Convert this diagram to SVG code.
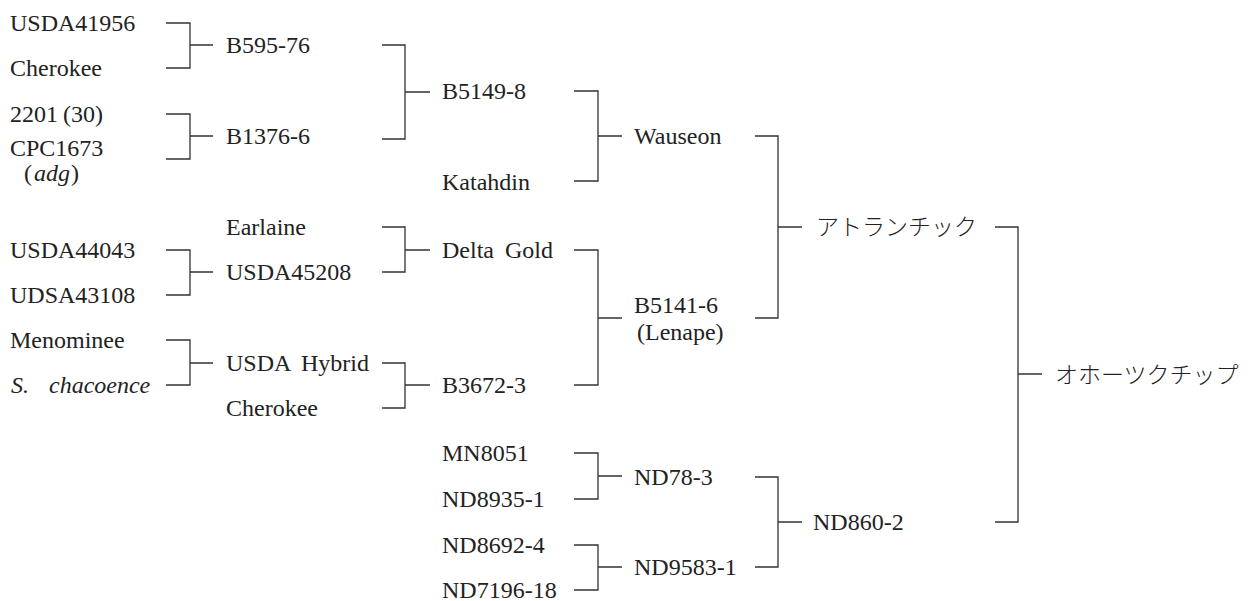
<svg xmlns="http://www.w3.org/2000/svg" width="1255" height="601" viewBox="0 0 1255 601">
<style>
text{font-size:24px;fill:#222}
.it{font-style:italic}
.ws{word-spacing:5px}
.jp{font-size:23px;font-weight:300}
#connectors path{fill:none;stroke:#333;stroke-width:1.3}
</style>
<rect width="1255" height="601" fill="#fff"/>
<g id="connectors">
<path d="M166 23H190V68H166M190 45H213"/>
<path d="M166 114H190V159H166M190 136H213"/>
<path d="M166 250H190V295H166M190 272H213"/>
<path d="M166 340H190V385H166M190 363H213"/>
<path d="M382 45H405V139H382M405 92H430"/>
<path d="M382 227H405V272H382M405 250H430"/>
<path d="M382 363H405V408H382M405 385H430"/>
<path d="M574 91H598V181H574M598 136H622"/>
<path d="M574 250H598V385H574M598 318H622"/>
<path d="M574 453H598V499H574M598 476H622"/>
<path d="M574 545H598V590H574M598 567H622"/>
<path d="M755 136H778V318H755M778 227H802"/>
<path d="M755 477H778V567H755M778 522H802"/>
<path d="M995 227H1018V522H995M1018 374H1042"/>
</g>
<g font-family="Liberation Serif, Tinos, DejaVu Serif, serif">
<g id="n-usda41956"><text x="10" y="31">USDA41956</text></g>
<g id="n-cherokee1"><text x="10" y="76">Cherokee</text></g>
<g id="n-2201"><text x="10" y="122">2201<tspan dx="5">(30)</tspan></text></g>
<g id="n-cpc1673"><text x="10" y="156">CPC1673</text><text x="24" y="181">(<tspan class="it" dx="2">adg</tspan><tspan dx="1">)</tspan></text></g>
<g id="n-usda44043"><text x="10" y="258">USDA44043</text></g>
<g id="n-udsa43108"><text x="10" y="303">UDSA43108</text></g>
<g id="n-menominee"><text x="10" y="348">Menominee</text></g>
<g id="n-chacoence"><text x="11" y="393" class="it" style="word-spacing:14px">S. chacoence</text></g>
<g id="n-b595-76"><text x="226" y="53">B595-76</text></g>
<g id="n-b1376-6"><text x="226" y="144">B1376-6</text></g>
<g id="n-earlaine"><text x="226" y="235">Earlaine</text></g>
<g id="n-usda45208"><text x="226" y="280">USDA45208</text></g>
<g id="n-usdahybrid"><text x="226" y="371" class="ws">USDA Hybrid</text></g>
<g id="n-cherokee2"><text x="226" y="416">Cherokee</text></g>
<g id="n-b5149-8"><text x="442" y="99">B5149-8</text></g>
<g id="n-katahdin"><text x="442" y="190">Katahdin</text></g>
<g id="n-deltagold"><text x="442" y="258" class="ws">Delta Gold</text></g>
<g id="n-b3672-3"><text x="442" y="393">B3672-3</text></g>
<g id="n-mn8051"><text x="442" y="461">MN8051</text></g>
<g id="n-nd8935-1"><text x="442" y="507">ND8935-1</text></g>
<g id="n-nd8692-4"><text x="442" y="553">ND8692-4</text></g>
<g id="n-nd7196-18"><text x="442" y="598">ND7196-18</text></g>
<g id="n-wauseon"><text x="634" y="144">Wauseon</text></g>
<g id="n-b5141-6"><text x="634" y="313">B5141-6</text><text x="637" y="340">(Lenape)</text></g>
<g id="n-nd78-3"><text x="634" y="485">ND78-3</text></g>
<g id="n-nd9583-1"><text x="634" y="575">ND9583-1</text></g>
<g id="n-nd860-2"><text x="813" y="530">ND860-2</text></g>
</g>
<g font-family="Noto Sans CJK JP, sans-serif">
<g id="n-atlantic"><text x="816" y="235" class="jp">アトランチック</text></g>
<g id="n-okhotsk"><text x="1055" y="383" class="jp">オホーツクチップ</text></g>
</g>
</svg>
